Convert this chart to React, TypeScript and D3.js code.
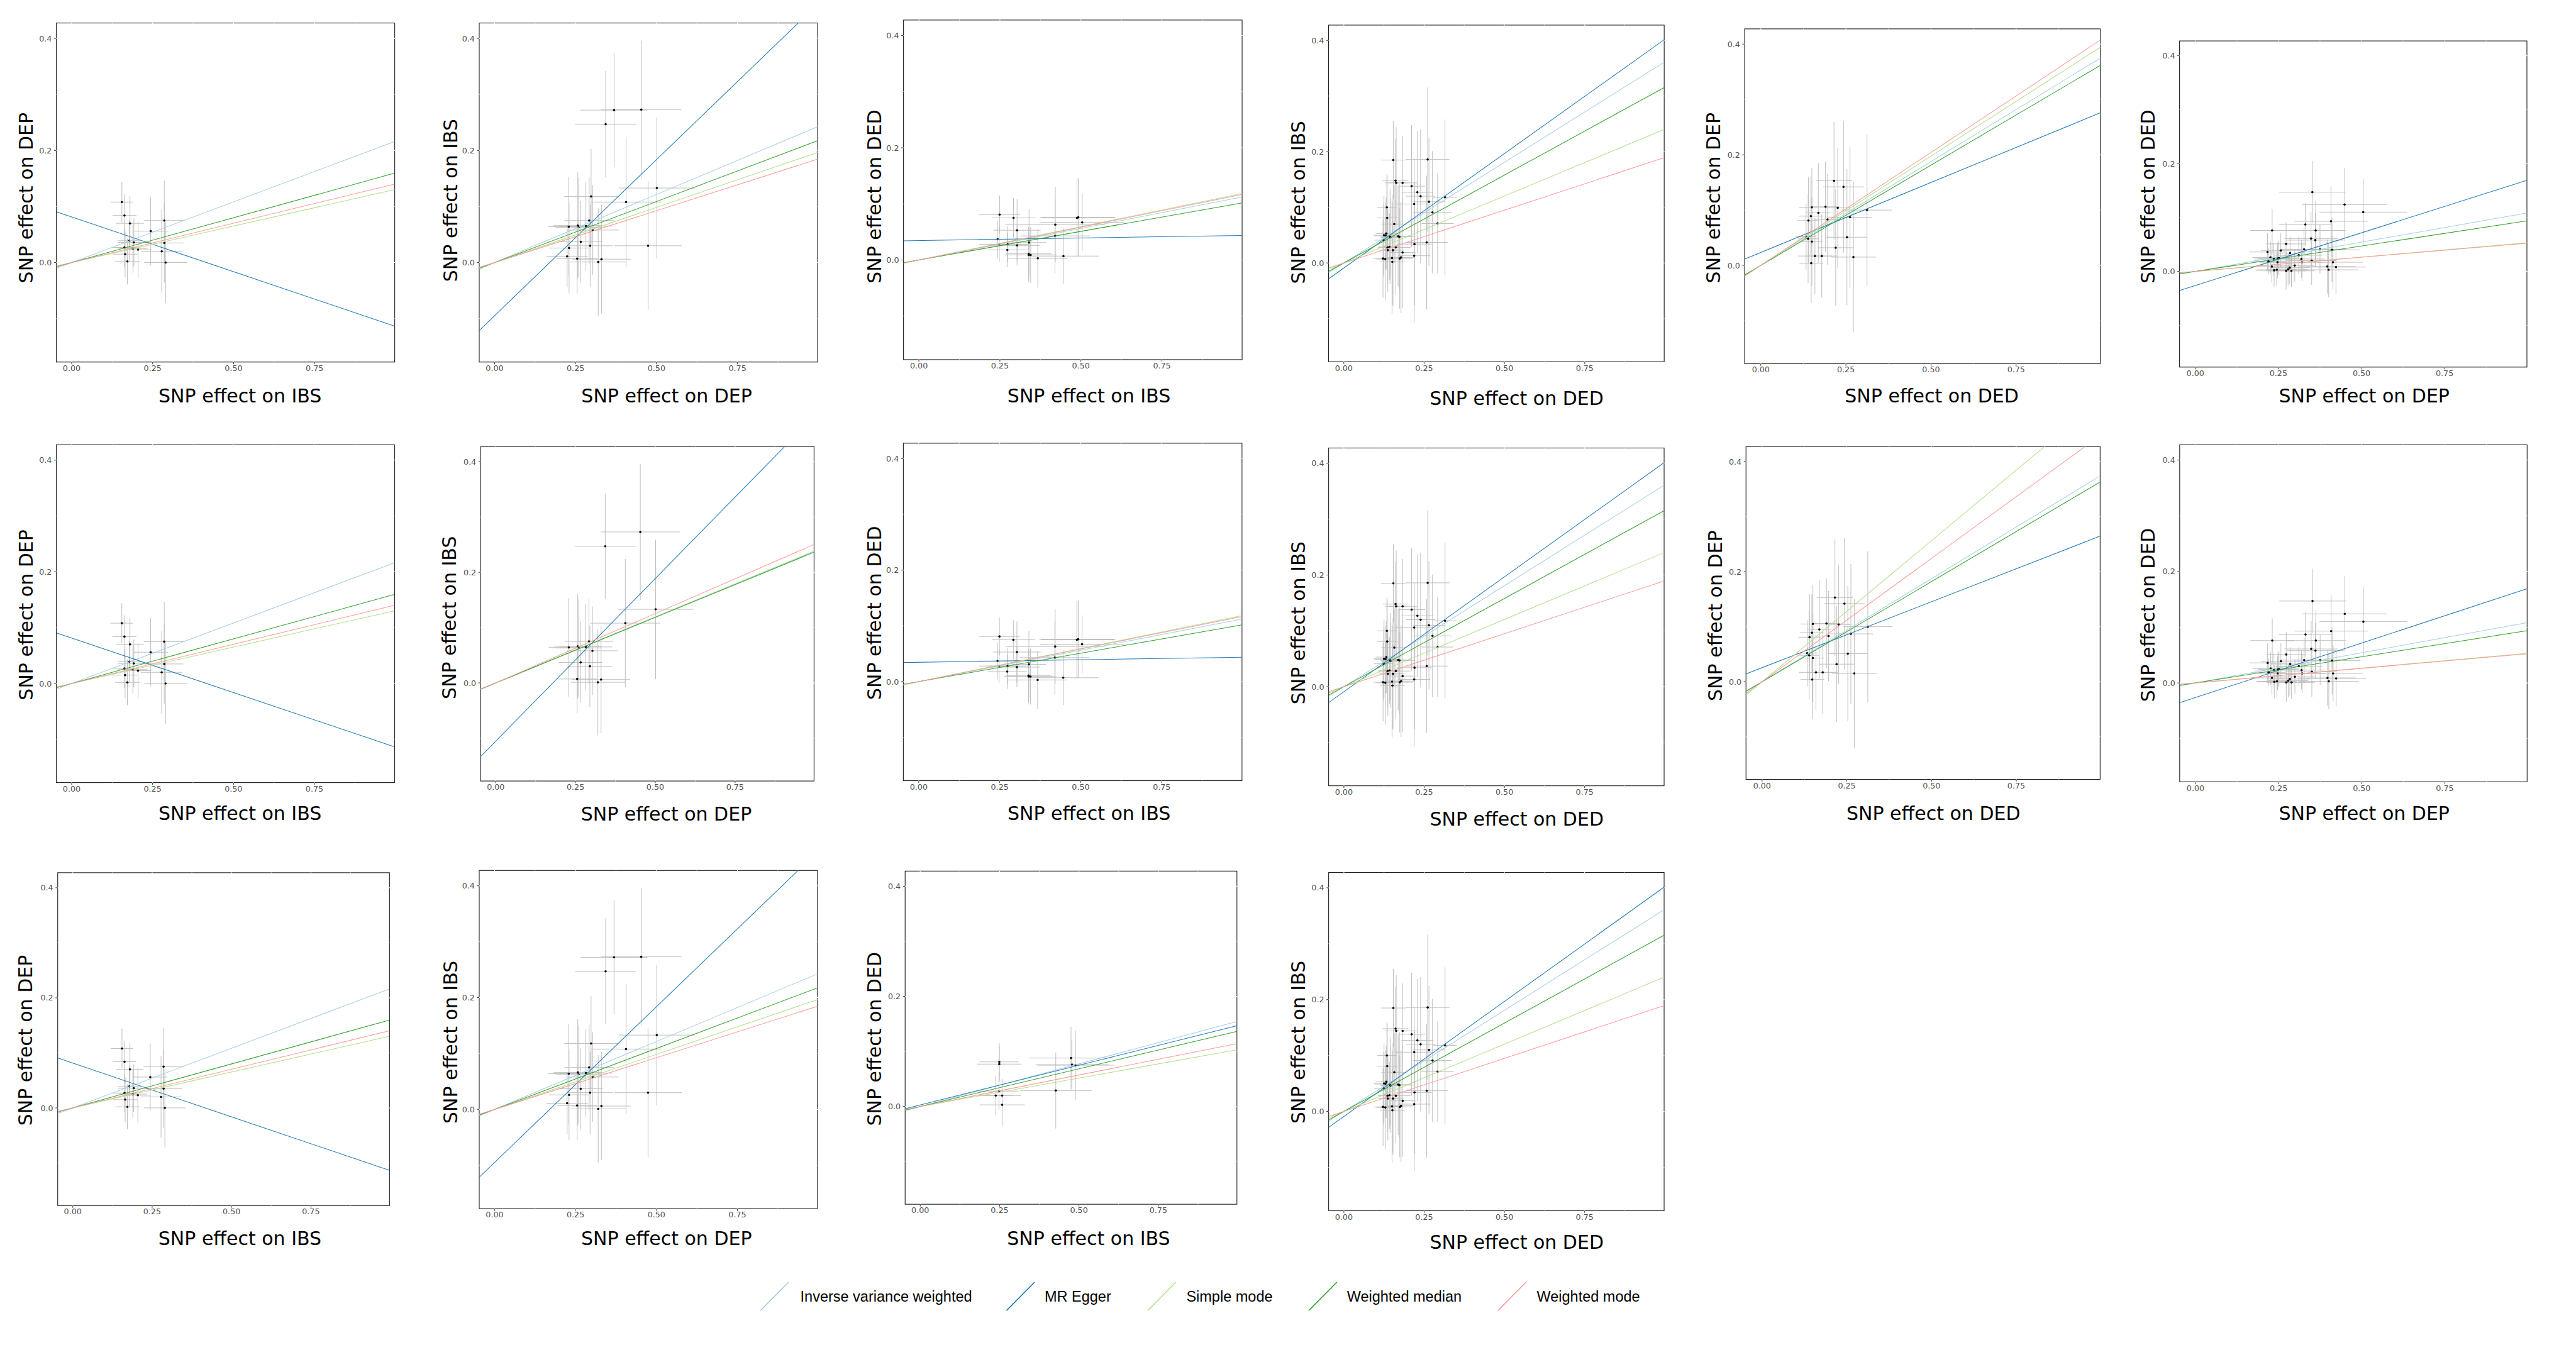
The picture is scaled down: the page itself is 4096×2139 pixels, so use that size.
import React from "react";
import * as d3 from "d3";

const S = 0.635;
const W = 4096;
const H = 2139;

// ---------- methods / legend ----------
const methodNames = ["Inverse variance weighted", "MR Egger", "Simple mode", "Weighted median", "Weighted mode"];
const methodColors = ["#A6CEE3", "#1F78B4", "#B2DF8A", "#33A02C", "#FB9A99"];

// ---------- axis ----------
const xTicks = [0, 0.25, 0.5, 0.75];
const yTicks = [0, 0.2, 0.4];
const xMinor = [0.125, 0.375, 0.625, 0.875];
const yMinor = [-0.1, 0.1, 0.3];
const xDomain = [-0.0475, 0.9975];
const yDomain = [-0.1775, 0.4275];

// ---------- data: IBS -> DEP ----------
const ibsDepBx = [0.155, 0.163, 0.180, 0.244, 0.286, 0.178, 0.192, 0.163, 0.189, 0.205, 0.286, 0.278, 0.165, 0.172, 0.290];
const ibsDepBy = [0.108, 0.084, 0.070, 0.056, 0.075, 0.039, 0.036, 0.027, 0.025, 0.023, 0.035, 0.020, 0.015, 0.002, 0.000];
const ibsDepSx = [0.035, 0.037, 0.043, 0.054, 0.063, 0.036, 0.050, 0.039, 0.045, 0.041, 0.059, 0.064, 0.038, 0.038, 0.066];
const ibsDepSy = [0.036, 0.038, 0.048, 0.061, 0.071, 0.037, 0.043, 0.035, 0.043, 0.050, 0.071, 0.074, 0.041, 0.041, 0.072];
const ibsDepSlope = [0.2167, -0.1954, 0.1305, 0.160, 0.1405];
const ibsDepIntercept = [0, 0.0814, 0, 0, 0];

// ---------- data: DEP -> IBS ----------
const depIbsBx = [0.369, 0.453, 0.343, 0.501, 0.406, 0.298, 0.292, 0.257, 0.260, 0.229, 0.282, 0.303, 0.266, 0.295, 0.230, 0.224, 0.255, 0.330, 0.320, 0.474];
const depIbsBy = [0.272, 0.273, 0.247, 0.133, 0.108, 0.118, 0.075, 0.066, 0.063, 0.064, 0.065, 0.058, 0.037, 0.030, 0.026, 0.011, 0.007, 0.006, 0.001, 0.030];
const depIbsSx = [0.103, 0.124, 0.095, 0.118, 0.110, 0.083, 0.076, 0.075, 0.072, 0.063, 0.082, 0.080, 0.068, 0.070, 0.062, 0.064, 0.062, 0.091, 0.085, 0.104];
const depIbsSy = [0.102, 0.123, 0.095, 0.126, 0.116, 0.085, 0.077, 0.095, 0.088, 0.089, 0.078, 0.080, 0.073, 0.074, 0.081, 0.055, 0.062, 0.097, 0.096, 0.115];
const depIbsSlope = [0.243, 0.557, 0.197, 0.218, 0.185];
const depIbsIntercept = [0, -0.0948, 0, 0, 0];

// ---------- data: DEP -> IBS (reduced set) ----------
const depIbs2Bx = [0.453, 0.343, 0.501, 0.406, 0.292, 0.257, 0.260, 0.229, 0.282, 0.303, 0.266, 0.295, 0.255, 0.330, 0.320];
const depIbs2By = [0.273, 0.247, 0.133, 0.108, 0.075, 0.066, 0.063, 0.064, 0.065, 0.058, 0.037, 0.030, 0.007, 0.006, 0.001];
const depIbs2Sx = [0.124, 0.095, 0.118, 0.110, 0.076, 0.075, 0.072, 0.063, 0.082, 0.080, 0.068, 0.070, 0.062, 0.091, 0.085];
const depIbs2Sy = [0.123, 0.095, 0.126, 0.116, 0.077, 0.095, 0.088, 0.089, 0.078, 0.080, 0.073, 0.074, 0.062, 0.097, 0.096];
const depIbs2Slope = [0.2389, 0.5885, 0.238, 0.237, 0.251];
const depIbs2Intercept = [0, -0.1054, 0, 0, 0];

// ---------- data: IBS -> DED ----------
const ibsDedBx = [0.249, 0.292, 0.303, 0.243, 0.248, 0.274, 0.273, 0.303, 0.340, 0.339, 0.339, 0.345, 0.367, 0.420, 0.421, 0.446, 0.488, 0.492, 0.504];
const ibsDedBy = [0.081, 0.075, 0.053, 0.037, 0.028, 0.028, 0.018, 0.026, 0.031, 0.011, 0.009, 0.009, 0.003, 0.043, 0.063, 0.007, 0.075, 0.076, 0.067];
const ibsDedSx = [0.063, 0.067, 0.073, 0.060, 0.062, 0.065, 0.060, 0.070, 0.053, 0.070, 0.075, 0.080, 0.091, 0.107, 0.153, 0.109, 0.116, 0.115, 0.129];
const ibsDedSy = [0.034, 0.035, 0.055, 0.033, 0.031, 0.032, 0.031, 0.036, 0.060, 0.048, 0.048, 0.050, 0.052, 0.066, 0.067, 0.049, 0.070, 0.070, 0.052];
const ibsDedSlope = [0.1125, 0.0091, 0.1187, 0.102, 0.117];
const ibsDedIntercept = [0, 0.0347, 0, 0, 0];

// ---------- data: IBS -> DED (reduced set) ----------
const ibsDed2Bx = [0.249, 0.249, 0.238, 0.248, 0.258, 0.258, 0.475, 0.478, 0.489, 0.427];
const ibsDed2By = [0.081, 0.077, 0.020, 0.028, 0.020, 0.003, 0.088, 0.076, 0.075, 0.029];
const ibsDed2Sx = [0.062, 0.070, 0.055, 0.062, 0.060, 0.071, 0.133, 0.115, 0.120, 0.113];
const ibsDed2Sy = [0.034, 0.033, 0.035, 0.034, 0.030, 0.039, 0.057, 0.045, 0.063, 0.069];
const ibsDed2Slope = [0.1548, 0.1441, 0.1032, 0.1368, 0.1144];
const ibsDed2Intercept = [0, 0.0029, 0, 0, 0];

// ---------- data: DED -> IBS ----------
const dedIbsBx = [0.154, 0.261, 0.161, 0.163, 0.183, 0.211, 0.229, 0.239, 0.315, 0.265, 0.219, 0.134, 0.276, 0.135, 0.157, 0.292, 0.132, 0.125, 0.130, 0.169, 0.173, 0.144, 0.145, 0.124, 0.258, 0.220, 0.142, 0.136, 0.162, 0.137, 0.153, 0.183, 0.219, 0.122, 0.129, 0.150, 0.174, 0.178, 0.151];
const dedIbsBy = [0.185, 0.186, 0.148, 0.144, 0.144, 0.138, 0.127, 0.120, 0.118, 0.110, 0.106, 0.100, 0.091, 0.081, 0.070, 0.071, 0.053, 0.050, 0.049, 0.048, 0.047, 0.047, 0.046, 0.041, 0.037, 0.034, 0.029, 0.028, 0.028, 0.023, 0.023, 0.019, 0.013, 0.008, 0.007, 0.009, 0.008, 0.010, 0.002];
const dedIbsSx = [0.038, 0.068, 0.040, 0.035, 0.045, 0.042, 0.050, 0.045, 0.036, 0.050, 0.060, 0.030, 0.060, 0.032, 0.040, 0.050, 0.033, 0.032, 0.035, 0.040, 0.045, 0.030, 0.030, 0.030, 0.066, 0.055, 0.032, 0.030, 0.045, 0.030, 0.035, 0.040, 0.050, 0.030, 0.028, 0.035, 0.040, 0.040, 0.038];
const dedIbsSy = [0.070, 0.130, 0.075, 0.100, 0.085, 0.110, 0.110, 0.120, 0.140, 0.115, 0.080, 0.060, 0.110, 0.075, 0.070, 0.090, 0.065, 0.070, 0.060, 0.090, 0.095, 0.085, 0.070, 0.065, 0.120, 0.110, 0.060, 0.065, 0.085, 0.075, 0.100, 0.100, 0.120, 0.070, 0.075, 0.100, 0.090, 0.100, 0.075];
const dedIbsSlope = [0.3618, 0.4113, 0.2407, 0.316, 0.1898];
const dedIbsIntercept = [0, -0.009, 0, 0, 0];

// ---------- data: DED -> DEP ----------
const dedDepBx = [0.215, 0.243, 0.190, 0.150, 0.226, 0.169, 0.147, 0.140, 0.196, 0.262, 0.312, 0.133, 0.139, 0.150, 0.253, 0.220, 0.159, 0.179, 0.272, 0.148];
const dedDepBy = [0.153, 0.142, 0.106, 0.105, 0.104, 0.095, 0.089, 0.081, 0.083, 0.087, 0.100, 0.052, 0.048, 0.043, 0.051, 0.032, 0.017, 0.017, 0.015, 0.004];
const dedDepSx = [0.053, 0.060, 0.041, 0.037, 0.037, 0.035, 0.035, 0.033, 0.040, 0.065, 0.073, 0.031, 0.030, 0.033, 0.060, 0.053, 0.050, 0.045, 0.066, 0.035];
const dedDepSy = [0.106, 0.119, 0.082, 0.071, 0.108, 0.090, 0.070, 0.078, 0.082, 0.127, 0.137, 0.060, 0.080, 0.080, 0.123, 0.105, 0.069, 0.075, 0.136, 0.072];
const dedDepSlope = [0.3756, 0.2531, 0.3954, 0.3625, 0.4084];
const dedDepIntercept = [0, 0.0234, 0, 0, 0];
const dedDep2Slope = [0.375, 0.2398, 0.5129, 0.364, 0.4484];
const dedDep2Intercept = [0, 0.0255, 0, 0, 0];

// ---------- data: DEP -> DED ----------
const depDedBx = [0.352, 0.449, 0.505, 0.408, 0.331, 0.231, 0.362, 0.348, 0.361, 0.273, 0.217, 0.257, 0.327, 0.375, 0.411, 0.285, 0.311, 0.226, 0.251, 0.236, 0.248, 0.319, 0.220, 0.247, 0.321, 0.350, 0.414, 0.299, 0.230, 0.284, 0.279, 0.397, 0.423, 0.245, 0.237, 0.273, 0.289, 0.401];
const depDedBy = [0.147, 0.124, 0.110, 0.093, 0.087, 0.076, 0.076, 0.061, 0.058, 0.051, 0.036, 0.039, 0.041, 0.041, 0.040, 0.034, 0.030, 0.026, 0.025, 0.023, 0.024, 0.023, 0.019, 0.017, 0.017, 0.020, 0.017, 0.011, 0.009, 0.007, 0.004, 0.009, 0.008, 0.003, 0.002, 0.001, 0.001, 0.003];
const depDedSx = [0.100, 0.127, 0.132, 0.110, 0.080, 0.066, 0.090, 0.080, 0.085, 0.060, 0.055, 0.060, 0.070, 0.080, 0.085, 0.060, 0.070, 0.055, 0.060, 0.058, 0.060, 0.070, 0.050, 0.055, 0.070, 0.075, 0.090, 0.060, 0.055, 0.060, 0.060, 0.085, 0.090, 0.060, 0.055, 0.060, 0.070, 0.090];
const depDedSy = [0.058, 0.068, 0.062, 0.065, 0.040, 0.040, 0.055, 0.050, 0.050, 0.040, 0.035, 0.032, 0.040, 0.045, 0.060, 0.030, 0.035, 0.030, 0.032, 0.030, 0.030, 0.035, 0.025, 0.030, 0.035, 0.045, 0.050, 0.030, 0.030, 0.030, 0.030, 0.050, 0.050, 0.030, 0.030, 0.035, 0.030, 0.050];
const depDedSlope = [0.1085, 0.1957, 0.0532, 0.0941, 0.0524];
const depDedIntercept = [0, -0.0262, 0, 0, 0];

type DS = { bx: number[]; by: number[]; sx: number[]; sy: number[] };
const dsIbsDep: DS = { bx: ibsDepBx, by: ibsDepBy, sx: ibsDepSx, sy: ibsDepSy };
const dsDepIbs: DS = { bx: depIbsBx, by: depIbsBy, sx: depIbsSx, sy: depIbsSy };
const dsDepIbs2: DS = { bx: depIbs2Bx, by: depIbs2By, sx: depIbs2Sx, sy: depIbs2Sy };
const dsIbsDed: DS = { bx: ibsDedBx, by: ibsDedBy, sx: ibsDedSx, sy: ibsDedSy };
const dsIbsDed2: DS = { bx: ibsDed2Bx, by: ibsDed2By, sx: ibsDed2Sx, sy: ibsDed2Sy };
const dsDedIbs: DS = { bx: dedIbsBx, by: dedIbsBy, sx: dedIbsSx, sy: dedIbsSy };
const dsDedDep: DS = { bx: dedDepBx, by: dedDepBy, sx: dedDepSx, sy: dedDepSy };
const dsDepDed: DS = { bx: depDedBx, by: depDedBy, sx: depDedSx, sy: depDedSy };

// ---------- layout (reference pixel coordinates) ----------
type Panel = {
  box: number[]; // L, R, T, B
  yt: number[]; // baseline x, center y
  xt: number[]; // center x, baseline y
  ds: DS; slope: number[]; icpt: number[]; xl: string; yl: string;
};
const panels: Panel[] = [
  { box: [141, 988.4, 57.6, 906.7], yt: [82.1, 495.5], xt: [601.2, 1007.8], ds: dsIbsDep, slope: ibsDepSlope, icpt: ibsDepIntercept, xl: "IBS", yl: "DEP" },
  { box: [1200, 2047.3, 57.6, 906.7], yt: [1144.5, 501.6], xt: [1669.5, 1007.8], ds: dsDepIbs, slope: depIbsSlope, icpt: depIbsIntercept, xl: "DEP", yl: "IBS" },
  { box: [2262.4, 3110.3, 50.2, 900.7], yt: [2206.2, 492.2], xt: [2726.8, 1007.8], ds: dsIbsDed, slope: ibsDedSlope, icpt: ibsDedIntercept, xl: "IBS", yl: "DED" },
  { box: [3326.8, 4167.2, 62.9, 906], yt: [3267.9, 507], xt: [3797.8, 1014.5], ds: dsDedIbs, slope: dedIbsSlope, icpt: dedIbsIntercept, xl: "DED", yl: "IBS" },
  { box: [4368.6, 5259.5, 72.3, 910.7], yt: [4307.5, 495.5], xt: [4837.2, 1007.8], ds: dsDedDep, slope: dedDepSlope, icpt: dedDepIntercept, xl: "DED", yl: "DEP" },
  { box: [5457.7, 6327.5, 102.5, 919.4], yt: [5394.9, 492.2], xt: [5920, 1007.8], ds: dsDepDed, slope: depDedSlope, icpt: depDedIntercept, xl: "DEP", yl: "DED" },

  { box: [141, 988, 1114, 1960], yt: [82, 1540], xt: [601, 2054], ds: dsIbsDep, slope: ibsDepSlope, icpt: ibsDepIntercept, xl: "IBS", yl: "DEP" },
  { box: [1203.5, 2038.4, 1118.3, 1956], yt: [1142.5, 1546.8], xt: [1668.5, 2054.4], ds: dsDepIbs2, slope: depIbs2Slope, icpt: depIbs2Intercept, xl: "DEP", yl: "IBS" },
  { box: [2262, 3110, 1110, 1955], yt: [2206, 1535], xt: [2727, 2054], ds: dsIbsDed, slope: ibsDedSlope, icpt: ibsDedIntercept, xl: "IBS", yl: "DED" },
  { box: [3327, 4167, 1122, 1968], yt: [3268, 1560], xt: [3798, 2068], ds: dsDedIbs, slope: dedIbsSlope, icpt: dedIbsIntercept, xl: "DED", yl: "IBS" },
  { box: [4372, 5258.8, 1118.3, 1952], yt: [4311.7, 1542], xt: [4841.4, 2053.1], ds: dsDedDep, slope: dedDep2Slope, icpt: dedDep2Intercept, xl: "DED", yl: "DEP" },
  { box: [5458, 6328, 1114, 1958], yt: [5395, 1540], xt: [5920, 2054], ds: dsDepDed, slope: depDedSlope, icpt: depDedIntercept, xl: "DEP", yl: "DED" },

  { box: [144.5, 975.3, 2185.6, 3019.3], yt: [80.8, 2605.5], xt: [600.7, 3117.8], ds: dsIbsDep, slope: ibsDepSlope, icpt: ibsDepIntercept, xl: "IBS", yl: "DEP" },
  { box: [1200, 2047, 2180, 3027], yt: [1144.5, 2610], xt: [1669, 3118], ds: dsDepIbs, slope: depIbsSlope, icpt: depIbsIntercept, xl: "DEP", yl: "IBS" },
  { box: [2266.5, 3097.3, 2181.6, 3016], yt: [2206.2, 2602], xt: [2726, 3117.8], ds: dsIbsDed2, slope: ibsDed2Slope, icpt: ibsDed2Intercept, xl: "IBS", yl: "DED" },
  { box: [3327, 4167, 2185, 3032], yt: [3268, 2610], xt: [3798, 3128], ds: dsDedIbs, slope: dedIbsSlope, icpt: dedIbsIntercept, xl: "DED", yl: "IBS" },
];

// legend layout (reference px): key x0, key x1, text x
const legendKeyX0 = [1904.3, 2520.4, 2874, 3277.3, 3751];
const legendTextX = [2004, 2615.7, 2970.7, 3372.7, 3848];
const legendKeyTop = 3211;
const legendKeyBottom = 3282;
const legendBaseline = 3260;
const legendKeyW = 70.4;

const axisFont = "'DejaVu Sans', Verdana, sans-serif";

function PanelView({ p, idx }: { p: Panel; idx: number }) {
  const [L, R, T, B] = p.box.map((v) => v * S);
  const x = d3.scaleLinear().domain(xDomain).range([L, R]);
  const y = d3.scaleLinear().domain(yDomain).range([B, T]);
  const clipId = `clip-${idx}`;
  const line = d3.line<number>().x((d) => x(d)).y((d) => d);
  const n = p.ds.bx.length;
  const idxs = d3.range(n);
  return (
    <g>
      <defs>
        <clipPath id={clipId}>
          <rect x={L} y={T} width={R - L} height={B - T} />
        </clipPath>
      </defs>
      <rect x={L} y={T} width={R - L} height={B - T} fill="#ffffff" stroke="#1a1a1a" strokeWidth={1.1} />
      {/* white grid over the panel background border */}
      {xMinor.map((v) => (
        <line key={`xm${v}`} x1={x(v)} x2={x(v)} y1={T - 0.6} y2={B + 0.6} stroke="#ffffff" strokeWidth={0.6} />
      ))}
      {yMinor.map((v) => (
        <line key={`ym${v}`} x1={L - 0.6} x2={R + 0.6} y1={y(v)} y2={y(v)} stroke="#ffffff" strokeWidth={0.6} />
      ))}
      {xTicks.map((v) => (
        <line key={`xg${v}`} x1={x(v)} x2={x(v)} y1={T - 0.6} y2={B + 0.6} stroke="#ffffff" strokeWidth={1.1} />
      ))}
      {yTicks.map((v) => (
        <line key={`yg${v}`} x1={L - 0.6} x2={R + 0.6} y1={y(v)} y2={y(v)} stroke="#ffffff" strokeWidth={1.1} />
      ))}
      <g clipPath={`url(#${clipId})`}>
        {idxs.map((i) => (
          <line key={`ev${i}`} x1={x(p.ds.bx[i])} x2={x(p.ds.bx[i])} y1={y(p.ds.by[i] - p.ds.sy[i])} y2={y(p.ds.by[i] + p.ds.sy[i])} stroke="#BEBEBE" strokeWidth={1} />
        ))}
        {idxs.map((i) => (
          <line key={`eh${i}`} x1={x(p.ds.bx[i] - p.ds.sx[i])} x2={x(p.ds.bx[i] + p.ds.sx[i])} y1={y(p.ds.by[i])} y2={y(p.ds.by[i])} stroke="#BEBEBE" strokeWidth={1} />
        ))}
        {idxs.map((i) => (
          <circle key={`pt${i}`} cx={x(p.ds.bx[i])} cy={y(p.ds.by[i])} r={1.8} fill="#000000" />
        ))}
        {methodNames.map((m, k) => {
          const xs = [xDomain[0], xDomain[1]];
          const pts: [number, number][] = xs.map((v) => [x(v), y(p.icpt[k] + p.slope[k] * v)]);
          return (
            <path key={m} d={d3.line()(pts) || ""} stroke={methodColors[k]} strokeWidth={1.05} fill="none" />
          );
        })}
      </g>
      {/* ticks */}
      {xTicks.map((v) => (
        <g key={`xt${v}`}>
          <line x1={x(v)} x2={x(v)} y1={B} y2={B + 3.5} stroke="#333333" strokeWidth={1} />
          <text x={x(v)} y={B + 14.2} textAnchor="middle" fontFamily={axisFont} fontSize={12.7} fill="#4D4D4D">
            {d3.format(".2f")(v)}
          </text>
        </g>
      ))}
      {yTicks.map((v) => (
        <g key={`yt${v}`}>
          <line x1={L - 3.5} x2={L} y1={y(v)} y2={y(v)} stroke="#333333" strokeWidth={1} />
          <text x={L - 7.1} y={y(v)} dy="0.36em" textAnchor="end" fontFamily={axisFont} fontSize={12.7} fill="#4D4D4D">
            {d3.format(".1f")(v)}
          </text>
        </g>
      ))}
      <text x={p.xt[0] * S} y={p.xt[1] * S} textAnchor="middle" fontFamily={axisFont} fontSize={30} fill="#000000">
        {`SNP effect on ${p.xl}`}
      </text>
      <text transform={`translate(${p.yt[0] * S},${p.yt[1] * S}) rotate(-90)`} textAnchor="middle" fontFamily={axisFont} fontSize={30} fill="#000000">
        {`SNP effect on ${p.yl}`}
      </text>
    </g>
  );
}

export default function App() {
  return (
    <svg width={W} height={H} viewBox={`0 0 ${W} ${H}`} style={{ position: "absolute", left: 0, top: 0, background: "#ffffff" }}>
      <rect x={0} y={0} width={W} height={H} fill="#ffffff" />
      {panels.map((p, i) => (
        <PanelView key={i} p={p} idx={i} />
      ))}
      <g>
        {methodNames.map((m, k) => (
          <g key={m}>
            <line x1={legendKeyX0[k] * S} y1={legendKeyBottom * S} x2={(legendKeyX0[k] + legendKeyW) * S} y2={legendKeyTop * S} stroke={methodColors[k]} strokeWidth={1.6} />
            <text x={legendTextX[k] * S} y={legendBaseline * S} fontFamily="'Liberation Sans', Arial, sans-serif" fontSize={23.5} fill="#000000">
              {m}
            </text>
          </g>
        ))}
      </g>
    </svg>
  );
}
